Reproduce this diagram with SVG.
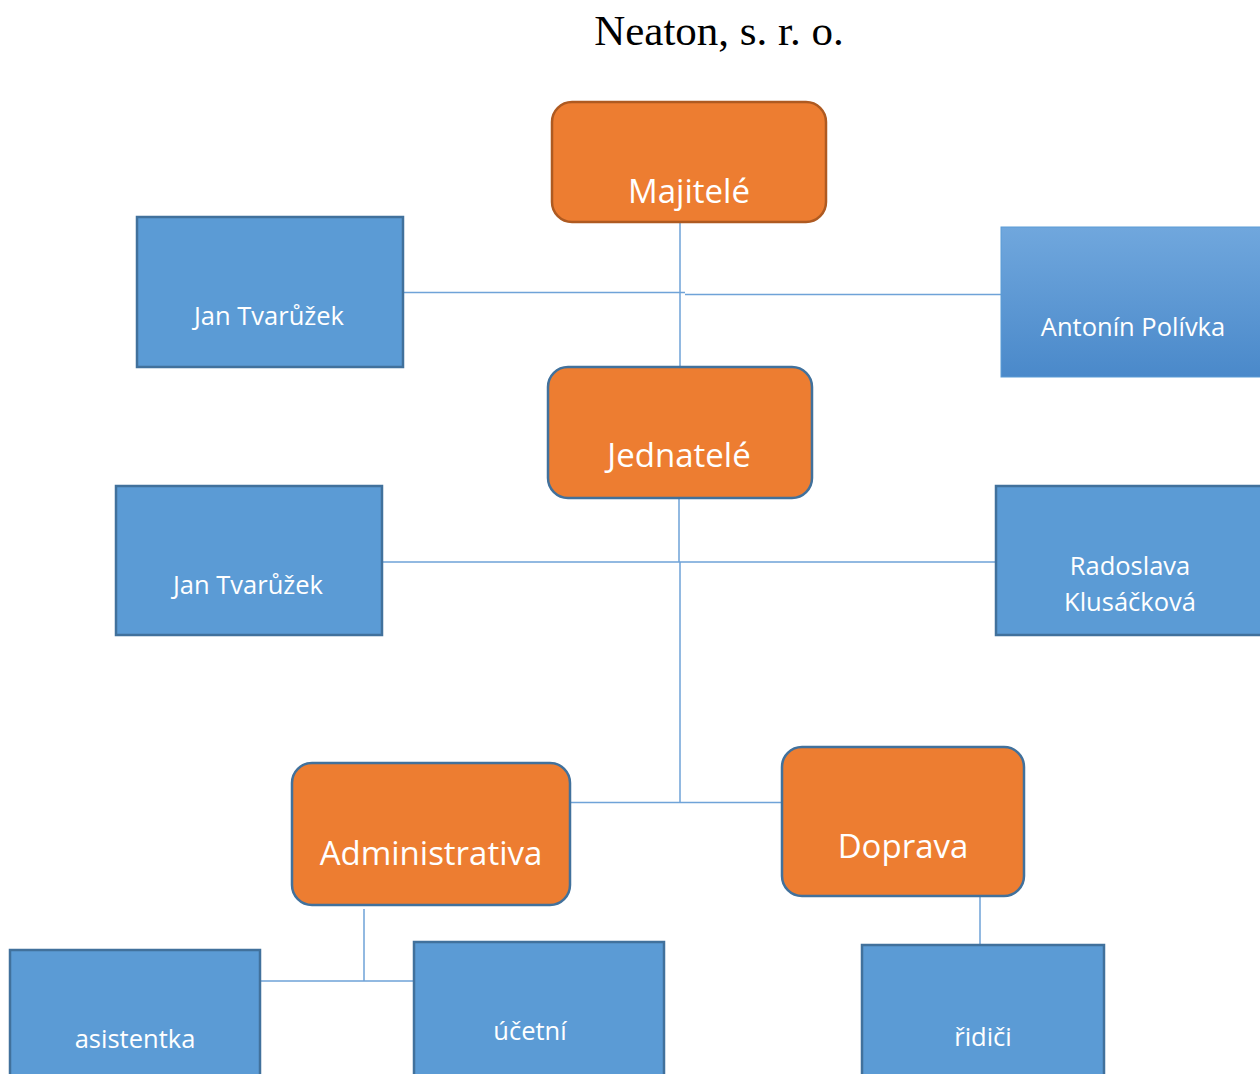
<svg xmlns="http://www.w3.org/2000/svg" width="1260" height="1074" viewBox="0 0 1260 1074">
<defs>
<linearGradient id="g1" x1="0" y1="0" x2="0" y2="1">
<stop offset="0" stop-color="#70A7DD"/>
<stop offset="1" stop-color="#4A89CA"/>
</linearGradient>
</defs>
<style>
.org{fill:#ED7D31;stroke:#41719C;stroke-width:2.5}
.box{fill:#5B9BD5;stroke:#41719C;stroke-width:2.5}
.t{font-family:"Open Sans","Noto Sans",sans-serif;fill:#fff;text-anchor:middle}
.big{font-size:33px}
.sm{font-size:25.5px}
.ln{stroke:#6FA3D8;stroke-width:1.5;fill:none}
</style>
<rect width="1260" height="1074" fill="#fff"/>
<text x="719" y="45" font-family="Liberation Serif,serif" font-size="43" text-anchor="middle" fill="#000">Neaton, s. r. o.</text>
<g id="connectors">
<path class="ln" d="M680 222V367M403 292.5H685M685 294.5H1001M679 498V562M382 562H996M680 562V802M570 802.5H782M364 909V981M261 981H413M980 897V945"/>
</g>
<g id="majitele"><rect class="org" style="stroke:#AE5A21" x="552" y="102" width="274" height="120" rx="20"/><text class="t big" x="689" y="203">Majitelé</text></g>
<g id="jan1"><rect class="box" x="137" y="217" width="266" height="150"/><text class="t sm" x="269" y="325">Jan Tvarůžek</text></g>
<g id="antonin"><rect fill="url(#g1)" stroke="#5B9BD5" stroke-width="1" x="1001" y="227" width="270" height="150"/><text class="t sm" x="1133" y="336">Antonín Polívka</text></g>
<g id="jednatele"><rect class="org" x="548" y="367" width="264" height="131" rx="20"/><text class="t big" x="679" y="467">Jednatelé</text></g>
<g id="jan2"><rect class="box" x="116" y="486" width="266" height="149"/><text class="t sm" x="248" y="594">Jan Tvarůžek</text></g>
<g id="radoslava"><rect class="box" x="996" y="486" width="280" height="149"/><text class="t sm" x="1130" y="575">Radoslava</text><text class="t sm" x="1130" y="611">Klusáčková</text></g>
<g id="administrativa"><rect class="org" x="292" y="763" width="278" height="142" rx="20"/><text class="t big" x="431" y="865">Administrativa</text></g>
<g id="doprava"><rect class="org" x="782" y="747" width="242" height="149" rx="20"/><text class="t big" x="903" y="858">Doprava</text></g>
<g id="asistentka"><rect class="box" x="10" y="950" width="250" height="140"/><text class="t sm" x="135" y="1048">asistentka</text></g>
<g id="ucetni"><rect class="box" x="414" y="942" width="250" height="140"/><text class="t sm" x="530" y="1040">účetní</text></g>
<g id="ridici"><rect class="box" x="862" y="945" width="242" height="140"/><text class="t sm" x="983" y="1046">řidiči</text></g>
</svg>
